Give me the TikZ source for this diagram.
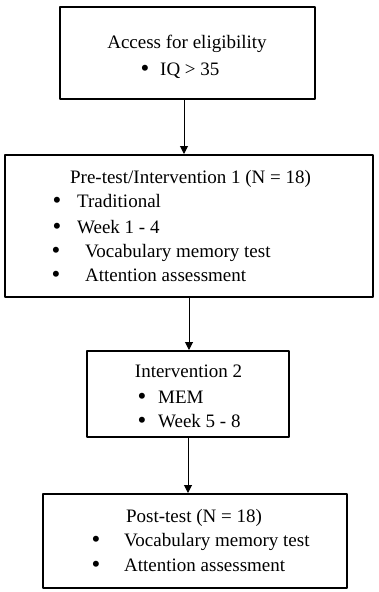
\documentclass[tikz,border=0pt]{standalone}
\usepackage{fontspec}
\setmainfont{Liberation Serif}
\usetikzlibrary{arrows.meta}
\begin{document}
\begin{tikzpicture}[x=1pt, y=-1pt, font=\fontsize{19}{24}\selectfont, line join=round, >={Triangle[width=8pt,length=8pt]}]
\tikzset{box/.style={draw, line width=2pt, inner sep=0pt},
	txt/.style={inner sep=0pt, anchor=base west},
	ttl/.style={inner sep=0pt, anchor=base},
	bul/.style={inner sep=0pt, anchor=center, font=\fontsize{25}{25}\selectfont}}
\useasboundingbox (0,0) rectangle (379,592);
% boxes
\node[box, minimum width=255pt, minimum height=92pt]	(access)	at (187.5,53) {};
\node[box, minimum width=368pt, minimum height=142pt]	(pre)	at (189,226) {};
\node[box, minimum width=202pt, minimum height=86pt]	(intv)	at (188,394) {};
\node[box, minimum width=304pt, minimum height=94pt]	(post)	at (195,541) {};
% texts
\node[ttl] (access-t)	at (187,48.5) {Access for eligibility};
\node[bul] (access-b1)	at (145,71) {•};
\node[txt] (access-i1)	at (160,75.5) {IQ > 35};
\node[ttl] (pre-t)	at (190.5,183.3) {Pre-test/Intervention 1 (N = 18)};
\node[bul] (pre-b1)	at (57,203.2) {•};
\node[txt] (pre-i1)	at (77,207.7) {Traditional};
\node[bul] (pre-b2)	at (57,228.8) {•};
\node[txt] (pre-i2)	at (77,233.3) {Week 1 - 4};
\node[bul] (pre-b3)	at (56,252.8) {•};
\node[txt] (pre-i3)	at (85,257.3) {Vocabulary memory test};
\node[bul] (pre-b4)	at (56,277.2) {•};
\node[txt] (pre-i4)	at (85,281.7) {Attention assessment};
\node[ttl] (intv-t)	at (188.5,377) {Intervention 2};
\node[bul] (intv-b1)	at (142,398.5) {•};
\node[txt] (intv-i1)	at (158,403) {MEM};
\node[bul] (intv-b2)	at (142,422.5) {•};
\node[txt] (intv-i2)	at (158,427) {Week 5 - 8};
\node[ttl] (post-t)	at (194,522) {Post-test (N = 18)};
\node[bul] (post-b1)	at (96,542) {•};
\node[txt] (post-i1)	at (124,546.5) {Vocabulary memory test};
\node[bul] (post-b2)	at (96,566.5) {•};
\node[txt] (post-i2)	at (124,571) {Attention assessment};
% arrows
\draw[->, line width=1pt]	([xshift=-3.5pt]access.south) -- ([xshift=-3.5pt]access.south |- pre.north);
\draw[->, line width=1pt]	(pre.south) -- (pre.south |- intv.north);
\draw[->, line width=1pt]	(intv.south) -- (intv.south |- post.north);
\end{tikzpicture}
\end{document}
